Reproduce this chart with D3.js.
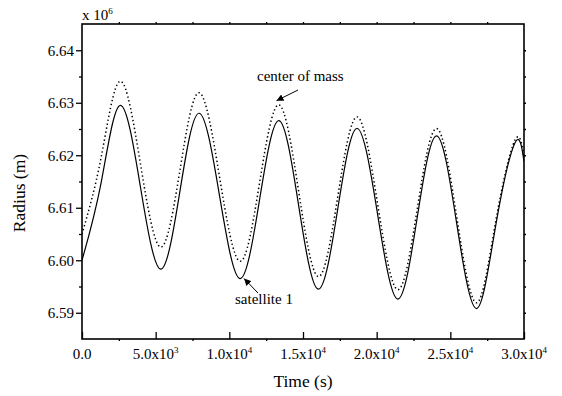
<!DOCTYPE html>
<html>
<head>
<meta charset="utf-8">
<script src="https://cdn.jsdelivr.net/npm/d3@7"></script>
<style>
  body { margin: 0; background: #fff; }
  svg { display: block; }
  text { font-family: "Liberation Serif", "DejaVu Serif", serif; fill: #000; }
</style>
</head>
<body>
<svg id="chart" width="562" height="396"></svg>
<script>
// time samples (s) at peaks, troughs and half-way points
const times = [0, 1300, 2600, 3970, 5340, 6650, 7960, 9340, 10725, 12050, 13370, 14700,
  16040, 17360, 18685, 20060, 21430, 22750, 24075, 25420, 26775, 28080, 29390, 30000];

// radius in units of 10^6 m
const satellite1 = [6.6000, 6.6148, 6.6295, 6.6139, 6.5983, 6.6132, 6.6280, 6.6122, 6.5965, 6.6115,
  6.6266, 6.6105, 6.5945, 6.6098, 6.6251, 6.6088, 6.5926, 6.6081, 6.6237, 6.6072, 6.5908, 6.6066,
  6.6224, 6.6188];
const centerOfMass = [6.6050, 6.6196, 6.6341, 6.6183, 6.6025, 6.6172, 6.6319, 6.6158, 6.5998, 6.6147,
  6.6296, 6.6132, 6.5969, 6.6121, 6.6273, 6.6108, 6.5944, 6.6097, 6.6251, 6.6085, 6.5919, 6.6074,
  6.6229, 6.6195];

const xTicks = [0, 5000, 10000, 15000, 20000, 25000, 30000];
const yTicks = [6.59, 6.60, 6.61, 6.62, 6.63, 6.64];

const svg = d3.select("#chart");
const margin = { left: 82, right: 524, top: 24, bottom: 339 };

const x = d3.scaleLinear().domain([0, 30000]).range([margin.left, margin.right]);
const y = d3.scaleLinear().domain([6.585, 6.645]).range([margin.bottom, margin.top]);

const defs = svg.append("defs");
defs.append("clipPath").attr("id", "plotClip")
  .append("rect")
  .attr("x", margin.left).attr("y", margin.top)
  .attr("width", margin.right - margin.left).attr("height", margin.bottom - margin.top);

const line = d3.line()
  .x(d => x(d[0]))
  .y(d => y(d[1]))
  .curve(d3.curveNatural);

const plot = svg.append("g").attr("clip-path", "url(#plotClip)");

plot.append("path")
  .datum(times.map((t, i) => [t, centerOfMass[i]]))
  .attr("fill", "none")
  .attr("stroke", "#000")
  .attr("stroke-width", 1.5)
  .attr("stroke-dasharray", "1.4,2.6")
  .attr("d", line);

plot.append("path")
  .datum(times.map((t, i) => [t, satellite1[i]]))
  .attr("fill", "none")
  .attr("stroke", "#000")
  .attr("stroke-width", 1.2)
  .attr("d", line);

// minor ticks
const xMinor = d3.range(2500, 30000, 5000);
const yMinor = [6.595, 6.605, 6.615, 6.625, 6.635];

// bottom axis: major ticks point inward
svg.append("g")
  .attr("transform", `translate(0,${margin.bottom})`)
  .call(d3.axisBottom(x).tickValues(xTicks).tickSize(-7).tickFormat(""))
  .call(g => g.select(".domain").remove());
svg.append("g")
  .attr("transform", `translate(0,${margin.bottom})`)
  .call(d3.axisBottom(x).tickValues(xMinor).tickSize(2).tickFormat(""))
  .call(g => g.select(".domain").remove());

// left axis: ticks point outward
svg.append("g")
  .attr("transform", `translate(${margin.left},0)`)
  .call(d3.axisLeft(y).tickValues(yTicks).tickSize(6).tickPadding(2).tickFormat(d3.format(".2f")))
  .call(g => g.select(".domain").remove())
  .call(g => g.selectAll("text").attr("font-size", 15))
  .attr("font-family", null);
svg.append("g")
  .attr("transform", `translate(${margin.left},0)`)
  .call(d3.axisLeft(y).tickValues(yMinor).tickSize(3).tickFormat(""))
  .call(g => g.select(".domain").remove());

// top and right: small outward ticks
svg.append("g")
  .attr("transform", `translate(0,${margin.top})`)
  .call(d3.axisTop(x).tickValues(d3.range(2500, 30000, 2500)).tickSize(2).tickFormat(""))
  .call(g => g.select(".domain").remove());
svg.append("g")
  .attr("transform", `translate(${margin.right},0)`)
  .call(d3.axisRight(y).tickValues(d3.range(6.59, 6.6426, 0.005)).tickSize(2).tickFormat(""))
  .call(g => g.select(".domain").remove());

svg.selectAll(".tick line").attr("stroke", "#000").attr("stroke-width", 1.3);

// frame
svg.append("rect")
  .attr("x", margin.left).attr("y", margin.top)
  .attr("width", margin.right - margin.left).attr("height", margin.bottom - margin.top)
  .attr("fill", "none")
  .attr("stroke", "#000")
  .attr("stroke-width", 1.6);

// x tick labels like 5.0x10^3
const xLabels = svg.append("g").attr("font-size", 15);
xTicks.forEach(d => {
  const t = xLabels.append("text")
    .attr("x", x(d))
    .attr("y", 359)
    .attr("text-anchor", "middle");
  if (d === 0) {
    t.text("0.0");
  } else {
    const e = Math.floor(Math.log10(d));
    t.append("tspan").text((d / Math.pow(10, e)).toFixed(1) + "x10");
    t.append("tspan").attr("font-size", 9).attr("dy", -6).text(e);
  }
});

// multiplier at the top of the y axis
const mult = svg.append("text").attr("x", margin.left).attr("y", 20).attr("font-size", 15);
mult.append("tspan").text("x 10");
mult.append("tspan").attr("font-size", 9).attr("dy", -6).text("6");

// axis titles
svg.append("text")
  .attr("x", 303).attr("y", 387)
  .attr("text-anchor", "middle")
  .attr("font-size", 17.5)
  .text("Time (s)");

svg.append("text")
  .attr("transform", "translate(25,193) rotate(-90)")
  .attr("text-anchor", "middle")
  .attr("font-size", 17.5)
  .text("Radius (m)");

// annotations with arrows
defs.append("marker")
  .attr("id", "arrow")
  .attr("viewBox", "0 0 10 10")
  .attr("refX", 10).attr("refY", 5)
  .attr("markerWidth", 7).attr("markerHeight", 7)
  .attr("markerUnits", "userSpaceOnUse")
  .attr("orient", "auto")
  .append("path")
  .attr("d", "M0,0L10,5L0,10z")
  .attr("fill", "#000");

svg.append("text")
  .attr("x", 257).attr("y", 81)
  .attr("font-size", 15)
  .text("center of mass");
svg.append("line")
  .attr("x1", 298).attr("y1", 90)
  .attr("x2", x(13200)).attr("y2", y(6.6302) - 1)
  .attr("stroke", "#000").attr("stroke-width", 1)
  .attr("marker-end", "url(#arrow)");

svg.append("text")
  .attr("x", 235).attr("y", 304)
  .attr("font-size", 15)
  .text("satellite 1");
svg.append("line")
  .attr("x1", 258).attr("y1", 293)
  .attr("x2", x(11000)).attr("y2", y(6.5967) + 1)
  .attr("stroke", "#000").attr("stroke-width", 1)
  .attr("marker-end", "url(#arrow)");
</script>
</body>
</html>
